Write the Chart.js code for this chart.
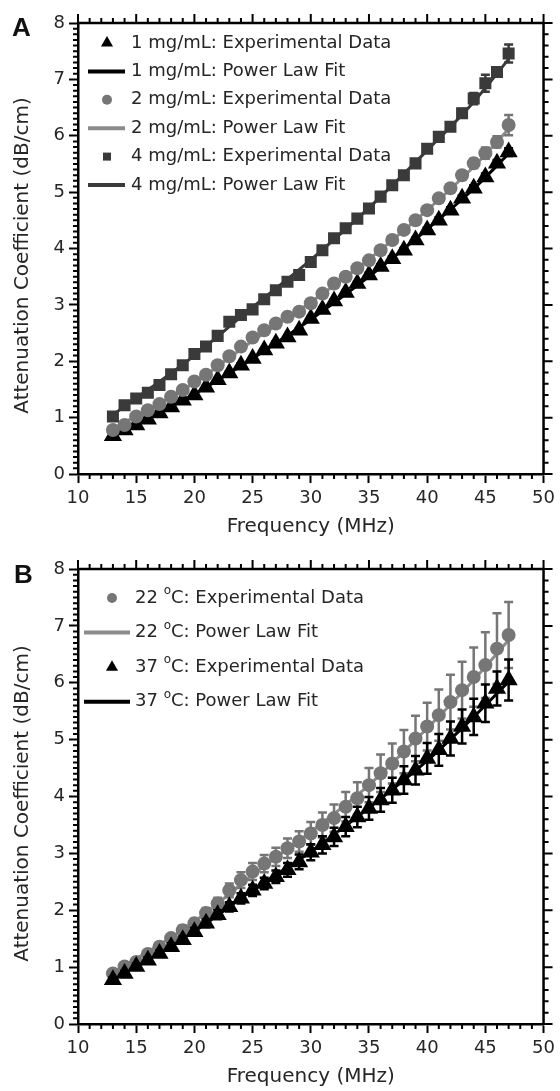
<!DOCTYPE html>
<html>
<head>
<meta charset="utf-8">
<script src="https://cdn.jsdelivr.net/npm/chart.js@4.4.1/dist/chart.umd.min.js"></script>
<style>
  body { margin: 0; background: #fff; }
  .panel { position: absolute; left: 0; width: 560px; }
  #wrapA { top: 0; height: 545px; }
  #wrapB { top: 545px; height: 546px; }
</style>
</head>
<body>
<div class="panel" id="wrapA"><canvas id="chartA" width="560" height="545"></canvas></div>
<div class="panel" id="wrapB"><canvas id="chartB" width="560" height="546"></canvas></div>
<script>
// frequencies (MHz) of the experimental points
const freq = [13, 14, 15, 16, 17, 18, 19, 20, 21, 22, 23, 24, 25, 26, 27, 28, 29, 30,
  31, 32, 33, 34, 35, 36, 37, 38, 39, 40, 41, 42, 43, 44, 45, 46, 47];

// panel A - concentrations
const a1mg = [0.68, 0.78, 0.87, 0.97, 1.08, 1.19, 1.31, 1.40, 1.54, 1.67, 1.79, 1.93, 2.05, 2.20, 2.32, 2.43, 2.55, 2.76,
  2.92, 3.07, 3.22, 3.38, 3.53, 3.68, 3.82, 3.97, 4.15, 4.33, 4.50, 4.68, 4.89, 5.07, 5.27, 5.51, 5.71];
const a1mgErr = [0.02, 0.02, 0.02, 0.02, 0.02, 0.02, 0.02, 0.02, 0.02, 0.02, 0.03, 0.03, 0.03, 0.03, 0.03, 0.03, 0.03, 0.03,
  0.03, 0.03, 0.03, 0.03, 0.04, 0.04, 0.04, 0.04, 0.04, 0.04, 0.05, 0.05, 0.05, 0.05, 0.06, 0.06, 0.07];
const a2mg = [0.78, 0.87, 1.02, 1.13, 1.24, 1.37, 1.49, 1.64, 1.76, 1.93, 2.09, 2.26, 2.42, 2.55, 2.67, 2.79, 2.88, 3.03,
  3.20, 3.38, 3.50, 3.65, 3.79, 3.97, 4.15, 4.33, 4.50, 4.68, 4.89, 5.07, 5.30, 5.51, 5.69, 5.89, 6.19];
const a2mgErr = [0.02, 0.02, 0.02, 0.02, 0.02, 0.02, 0.02, 0.02, 0.03, 0.03, 0.03, 0.03, 0.03, 0.03, 0.03, 0.03, 0.03, 0.04,
  0.04, 0.04, 0.04, 0.04, 0.05, 0.05, 0.05, 0.05, 0.06, 0.06, 0.06, 0.07, 0.07, 0.08, 0.10, 0.10, 0.18];
const a4mg = [1.02, 1.22, 1.34, 1.44, 1.58, 1.77, 1.93, 2.13, 2.26, 2.45, 2.70, 2.82, 2.92, 3.10, 3.26, 3.41, 3.53, 3.76,
  3.97, 4.18, 4.36, 4.53, 4.71, 4.92, 5.12, 5.30, 5.51, 5.77, 5.98, 6.16, 6.40, 6.66, 6.93, 7.13, 7.46];
const a4mgErr = [0.03, 0.03, 0.03, 0.03, 0.03, 0.03, 0.03, 0.03, 0.03, 0.03, 0.04, 0.04, 0.04, 0.04, 0.04, 0.04, 0.04, 0.05,
  0.05, 0.05, 0.05, 0.05, 0.05, 0.06, 0.06, 0.06, 0.06, 0.07, 0.07, 0.07, 0.08, 0.10, 0.15, 0.08, 0.16];

// power law fits, read at a few frequencies
const fitFreq = [13, 20, 25, 30, 35, 40, 44, 47];
const a1mgFit = [0.68, 1.42, 2.05, 2.74, 3.50, 4.34, 5.06, 5.68];
const a2mgFit = [0.80, 1.62, 2.36, 3.05, 3.81, 4.68, 5.45, 6.12];
const a4mgFit = [1.05, 2.10, 2.96, 3.80, 4.72, 5.74, 6.60, 7.36];

// panel B - temperatures
const b22 = [0.89, 1.01, 1.09, 1.23, 1.36, 1.51, 1.65, 1.77, 1.95, 2.12, 2.35, 2.53, 2.68, 2.82, 2.94, 3.09, 3.21, 3.35,
  3.50, 3.62, 3.82, 3.97, 4.20, 4.41, 4.58, 4.79, 5.02, 5.23, 5.43, 5.66, 5.87, 6.10, 6.31, 6.60, 6.84];
const b22Err = [0.05, 0.05, 0.06, 0.06, 0.07, 0.07, 0.08, 0.08, 0.09, 0.10, 0.12, 0.14, 0.15, 0.15, 0.16, 0.17, 0.18, 0.20,
  0.22, 0.24, 0.26, 0.28, 0.30, 0.33, 0.35, 0.38, 0.40, 0.42, 0.45, 0.48, 0.50, 0.52, 0.58, 0.62, 0.58];
const b37 = [0.78, 0.89, 1.01, 1.12, 1.24, 1.36, 1.48, 1.62, 1.77, 1.92, 2.06, 2.21, 2.35, 2.47, 2.59, 2.71, 2.85, 3.02,
  3.15, 3.29, 3.47, 3.64, 3.79, 3.94, 4.11, 4.29, 4.46, 4.67, 4.82, 5.02, 5.23, 5.40, 5.64, 5.90, 6.05];
const b37Err = [0.04, 0.04, 0.05, 0.05, 0.05, 0.06, 0.06, 0.07, 0.07, 0.08, 0.08, 0.09, 0.10, 0.10, 0.11, 0.12, 0.13, 0.14,
  0.15, 0.16, 0.17, 0.18, 0.20, 0.21, 0.22, 0.24, 0.25, 0.27, 0.28, 0.30, 0.30, 0.32, 0.33, 0.30, 0.36];
const b22Fit = [0.90, 1.80, 2.62, 3.38, 4.20, 5.20, 6.05, 6.75];
const b37Fit = [0.80, 1.63, 2.35, 3.03, 3.80, 4.63, 5.40, 6.02];

const xTicks = [10, 15, 20, 25, 30, 35, 40, 45, 50];
const yTicks = [0, 1, 2, 3, 4, 5, 6, 7, 8];
const xTitle = 'Frequency (MHz)';
const yTitle = 'Attenuation Coefficient (dB/cm)';

const FONT = '"DejaVu Sans", sans-serif';
const TEXT = '#262626';
const BLACK = '#000000', GRAY = '#767676', LIGHT = '#8c8c8c', DARK = '#3a3a3a';

const pts = (xs, ys) => xs.map((x, i) => ({ x, y: ys[i] }));

function points(vals, errs, style, r, color, order) {
  return {
    data: pts(freq, vals), errors: errs, showLine: false,
    pointStyle: style, pointRadius: r, pointBorderWidth: 0,
    pointBackgroundColor: color, borderColor: color, backgroundColor: color, order
  };
}
function fitLine(vals, color, order) {
  return {
    data: pts(fitFreq, vals), borderColor: color, borderWidth: 3, pointRadius: 0,
    cubicInterpolationMode: 'monotone', order
  };
}

// error bars, drawn just before their own dataset
const errorBars = {
  id: 'errorBars',
  beforeDatasetDraw(chart, args) {
    const ds = chart.data.datasets[args.index];
    if (!ds.errors) return;
    const { ctx, scales: { x, y } } = chart;
    ctx.save();
    ctx.strokeStyle = ds.borderColor;
    ctx.lineWidth = 2.5;
    ctx.beginPath();
    ds.data.forEach((p, i) => {
      const px = x.getPixelForValue(p.x);
      const top = y.getPixelForValue(p.y + ds.errors[i]);
      const bot = y.getPixelForValue(p.y - ds.errors[i]);
      ctx.moveTo(px, top); ctx.lineTo(px, bot);
      ctx.moveTo(px - 4.5, top); ctx.lineTo(px + 4.5, top);
      ctx.moveTo(px - 4.5, bot); ctx.lineTo(px + 4.5, bot);
    });
    ctx.stroke();
    ctx.restore();
  }
};

// closed frame with minor ticks on all four sides, plus the y title
const frameTicks = {
  id: 'frameTicks',
  afterDraw(chart) {
    const { ctx, chartArea: ca, scales: { x, y } } = chart;
    ctx.save();
    ctx.strokeStyle = '#000';
    ctx.lineWidth = 2.5;
    ctx.beginPath();
    ctx.moveTo(ca.left, ca.top); ctx.lineTo(ca.right, ca.top); ctx.lineTo(ca.right, ca.bottom);
    ctx.stroke();
    ctx.lineWidth = 2;
    ctx.beginPath();
    for (let f = 10; f <= 50; f++) {
      const px = x.getPixelForValue(f);
      const major = f % 5 === 0;
      if (!major) { ctx.moveTo(px, ca.bottom); ctx.lineTo(px, ca.bottom + 5); }
      ctx.moveTo(px, ca.top); ctx.lineTo(px, ca.top - (major ? 9 : 5));
    }
    for (let k = 0; k <= 80; k++) {
      const py = y.getPixelForValue(k / 10);
      if (k % 10) { ctx.moveTo(ca.left, py); ctx.lineTo(ca.left - 5, py); }
      if (k % 2 === 0) { ctx.moveTo(ca.right, py); ctx.lineTo(ca.right + (k % 10 ? 5 : 9), py); }
    }
    ctx.stroke();

    // y title, a little below the middle of the plot as in the original
    ctx.translate(23, (ca.top + ca.bottom) / 2 + 7);
    ctx.rotate(-Math.PI / 2);
    ctx.font = '20px ' + FONT;
    ctx.fillStyle = TEXT;
    ctx.textAlign = 'center';
    ctx.textBaseline = 'middle';
    ctx.fillText(yTitle, 0, 0);
    ctx.restore();
  }
};

function marker(ctx, style, x, y, r) {
  ctx.beginPath();
  if (style === 'circle') {
    ctx.arc(x, y, r, 0, Math.PI * 2);
  } else if (style === 'triangle') {
    ctx.moveTo(x, y - r); ctx.lineTo(x + r * 0.866, y + r * 0.5); ctx.lineTo(x - r * 0.866, y + r * 0.5);
    ctx.closePath();
  } else {
    ctx.rect(x - r, y - r, 2 * r, 2 * r);
  }
  ctx.fill();
}

// legend inside the plot + panel letter
const boxLegend = {
  id: 'boxLegend',
  afterDraw(chart, args, o) {
    const ctx = chart.ctx;
    ctx.save();
    ctx.fillStyle = '#111';
    ctx.font = 'bold 26px "Liberation Sans", Arial, sans-serif';
    ctx.textBaseline = 'alphabetic';
    ctx.fillText(o.tag, o.tagX, o.tagY);
    ctx.textBaseline = 'middle';
    o.items.forEach((it, i) => {
      const yy = o.y0 + i * o.step;
      if (it.kind === 'line') {
        ctx.strokeStyle = it.color; ctx.lineWidth = 4;
        ctx.beginPath(); ctx.moveTo(o.lineX0, yy); ctx.lineTo(o.lineX1, yy); ctx.stroke();
      } else {
        ctx.fillStyle = it.color;
        marker(ctx, it.style, o.markX, yy, it.r);
      }
      ctx.fillStyle = TEXT;
      let tx = o.textX;
      it.text.forEach(part => {
        if (part.sup) {
          ctx.font = '12px ' + FONT;
          ctx.fillText(part.t, tx, yy - 7);
        } else {
          ctx.font = '18px ' + FONT;
          ctx.fillText(part.t, tx, yy);
        }
        tx += ctx.measureText(part.t).width;
      });
    });
    ctx.restore();
  }
};

function build(id, padTop, xHeight, titleBottom, datasets, legend) {
  return new Chart(document.getElementById(id), {
    type: 'line',
    data: { datasets },
    options: {
      responsive: false,
      animation: false,
      layout: { padding: { top: padTop, right: 14, left: 0, bottom: 0 } },
      plugins: { legend: { display: false }, tooltip: { enabled: false }, boxLegend: legend },
      scales: {
        x: {
          type: 'linear', min: 10, max: 50,
          afterBuildTicks: s => { s.ticks = xTicks.map(v => ({ value: v })); },
          afterFit: s => { s.height = xHeight; },
          ticks: { font: { family: FONT, size: 18 }, color: TEXT, padding: 5, maxRotation: 0, autoSkip: false },
          grid: { drawOnChartArea: false, tickLength: 9, tickWidth: 2, tickColor: '#000' },
          border: { width: 2.5, color: '#000' },
          title: { display: true, text: xTitle, color: TEXT, font: { family: FONT, size: 20 }, padding: { top: 0, bottom: titleBottom } }
        },
        y: {
          type: 'linear', min: 0, max: 8,
          afterBuildTicks: s => { s.ticks = yTicks.map(v => ({ value: v })); },
          afterFit: s => { s.width = 78; },
          ticks: { font: { family: FONT, size: 18 }, color: TEXT, padding: 4 },
          grid: { drawOnChartArea: false, tickLength: 9, tickWidth: 2, tickColor: '#000' },
          border: { width: 2.5, color: '#000' }
        }
      }
    },
    plugins: [errorBars, frameTicks, boxLegend]
  });
}

build('chartA', 23, 71, 6, [
  points(a4mg, a4mgErr, 'rect', 8.5, DARK, 1),
  points(a2mg, a2mgErr, 'circle', 7, GRAY, 2),
  points(a1mg, a1mgErr, 'triangle', 10.5, BLACK, 3),
  fitLine(a4mgFit, DARK, 4),
  fitLine(a2mgFit, LIGHT, 5),
  fitLine(a1mgFit, BLACK, 6)
], {
  tag: 'A', tagX: 12, tagY: 36,
  y0: 43, step: 28.4, markX: 107, lineX0: 88, lineX1: 125, textX: 131,
  items: [
    { kind: 'point', style: 'triangle', r: 7, color: BLACK, text: [{ t: '1 mg/mL: Experimental Data' }] },
    { kind: 'line', color: BLACK, text: [{ t: '1 mg/mL: Power Law Fit' }] },
    { kind: 'point', style: 'circle', r: 5, color: GRAY, text: [{ t: '2 mg/mL: Experimental Data' }] },
    { kind: 'line', color: LIGHT, text: [{ t: '2 mg/mL: Power Law Fit' }] },
    { kind: 'point', style: 'rect', r: 4, color: DARK, text: [{ t: '4 mg/mL: Experimental Data' }] },
    { kind: 'line', color: DARK, text: [{ t: '4 mg/mL: Power Law Fit' }] }
  ]
});

build('chartB', 24, 67, 2, [
  points(b37, b37Err, 'triangle', 10.5, BLACK, 1),
  points(b22, b22Err, 'circle', 7, GRAY, 2),
  fitLine(b37Fit, BLACK, 3),
  fitLine(b22Fit, LIGHT, 4)
], {
  tag: 'B', tagX: 14, tagY: 38,
  y0: 53, step: 34.6, markX: 112, lineX0: 84, lineX1: 130, textX: 135,
  items: [
    { kind: 'point', style: 'circle', r: 5, color: GRAY, text: [{ t: '22 ' }, { t: 'o', sup: true }, { t: 'C: Experimental Data' }] },
    { kind: 'line', color: LIGHT, text: [{ t: '22 ' }, { t: 'o', sup: true }, { t: 'C: Power Law Fit' }] },
    { kind: 'point', style: 'triangle', r: 7, color: BLACK, text: [{ t: '37 ' }, { t: 'o', sup: true }, { t: 'C: Experimental Data' }] },
    { kind: 'line', color: BLACK, text: [{ t: '37 ' }, { t: 'o', sup: true }, { t: 'C: Power Law Fit' }] }
  ]
});
</script>
</body>
</html>
